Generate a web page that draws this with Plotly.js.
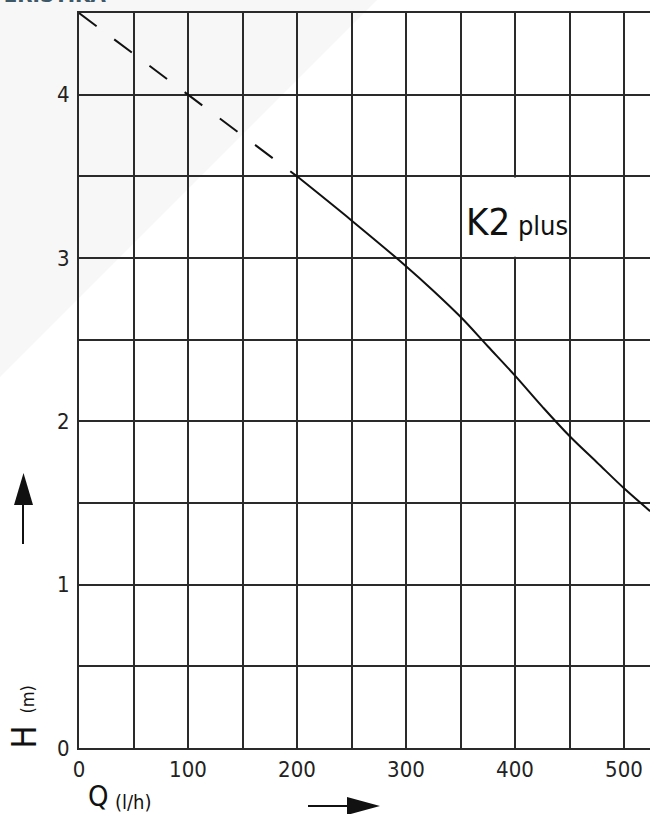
<!DOCTYPE html>
<html>
<head>
<meta charset="utf-8">
<script src="https://cdn.plot.ly/plotly-3.0.1.min.js"></script>
<style>html,body{margin:0;padding:0;background:#fff;}#chart{width:650px;height:814px;}</style>
</head>
<body>
<div id="chart"></div>
<script>
// ---- data ----
const flowDashed = [0, 200];
const headDashed = [4.5, 3.5];
const flowSolid = [200, 250, 300, 325, 350, 375, 400, 425, 450, 475, 500, 524];
const headSolid = [3.50, 3.23, 2.95, 2.80, 2.64, 2.46, 2.28, 2.09, 1.91, 1.75, 1.59, 1.45];
const xTickVals = [0, 50, 100, 150, 200, 250, 300, 350, 400, 450, 500];
const xTickText = ['0', '', '100', '', '200', '', '300', '', '400', '', '500'];
const yTickVals = [0, 0.5, 1, 1.5, 2, 2.5, 3, 3.5, 4];
const yTickText = ['0', '', '1', '', '2', '', '3', '', '4'];
const seriesLabel = 'K2';
const seriesSuffix = 'plus';
const xTitle = 'Q';
const xUnit = '(l/h)';
const yTitle = 'H';
const yUnit = '(m)';
const headerText = 'CHARAKTERISTIKA';

// ---- geometry ----
const W = 650, H = 814;
const M = {l: 79, r: 0, t: 13, b: 66};
const PW = W - M.l - M.r, PH = H - M.t - M.b;
const px = v => (v - M.l) / PW;
const py = v => (H - M.b - v) / PH;
const FONT = 'DejaVu Sans Condensed, Liberation Sans Narrow, DejaVu Sans, sans-serif';
const GRID = '#2a2a2a';

const traces = [
  {x: flowDashed, y: headDashed, mode: 'lines', type: 'scatter',
   line: {color: '#111', width: 2, dash: '22px,22px'}, hoverinfo: 'skip'},
  {x: flowSolid, y: headSolid, mode: 'lines', type: 'scatter',
   line: {color: '#111', width: 2, shape: 'spline', smoothing: 1}, hoverinfo: 'skip'}
];

const shapes = [
  // faint watermark triangle
  {type: 'path', xref: 'paper', yref: 'paper', layer: 'below',
   path: `M ${px(0)} ${py(0)} L ${px(377)} ${py(0)} L ${px(0)} ${py(377)} Z`,
   fillcolor: '#f7f7f7', line: {width: 0}},
  // white label box
  {type: 'rect', xref: 'x', yref: 'y', layer: 'between',
   x0: 351.5, x1: 448.5, y0: 3.007, y1: 3.493,
   fillcolor: '#ffffff', line: {width: 0}},
  // up arrow
  {type: 'line', xref: 'paper', yref: 'paper', x0: px(23), x1: px(23), y0: py(544), y1: py(500),
   line: {color: '#111', width: 2}},
  {type: 'path', xref: 'paper', yref: 'paper',
   path: `M ${px(14)} ${py(505)} L ${px(33)} ${py(505)} L ${px(23.5)} ${py(473)} Z`,
   fillcolor: '#111', line: {width: 0}},
  // right arrow
  {type: 'line', xref: 'paper', yref: 'paper', x0: px(308), x1: px(350), y0: py(806), y1: py(806),
   line: {color: '#111', width: 2}},
  {type: 'path', xref: 'paper', yref: 'paper',
   path: `M ${px(347)} ${py(797)} L ${px(347)} ${py(815)} L ${px(380)} ${py(806)} Z`,
   fillcolor: '#111', line: {width: 0}}
];

const annotations = [
  {xref: 'x', yref: 'y', x: 353, y: 3.22, xanchor: 'left', yanchor: 'middle', showarrow: false,
   text: `${seriesLabel}<span style="font-size:27px"> ${seriesSuffix}</span>`,
   font: {family: FONT, size: 38, color: '#111'}},
  {xref: 'paper', yref: 'paper', x: px(98.5), y: py(796), xanchor: 'center', yanchor: 'middle', showarrow: false,
   text: xTitle, font: {family: FONT, size: 29, color: '#111'}},
  {xref: 'paper', yref: 'paper', x: px(113), y: py(802), xanchor: 'left', yanchor: 'middle', showarrow: false,
   text: xUnit, font: {family: FONT, size: 20, color: '#111'}},
  {xref: 'paper', yref: 'paper', x: px(23.5), y: py(737), xanchor: 'center', yanchor: 'middle', showarrow: false,
   textangle: -90, text: yTitle, font: {family: FONT, size: 34, color: '#111'}},
  {xref: 'paper', yref: 'paper', x: px(26.5), y: py(700), xanchor: 'center', yanchor: 'middle', showarrow: false,
   textangle: -90, text: yUnit, font: {family: FONT, size: 18, color: '#111'}},
  {xref: 'paper', yref: 'paper', x: px(108), y: py(9), xanchor: 'right', yanchor: 'bottom', showarrow: false,
   text: `<b>${headerText}</b>`, font: {family: FONT, size: 22, color: '#3e5868'}}
];

const layout = {
  width: W, height: H,
  margin: M,
  paper_bgcolor: '#ffffff',
  plot_bgcolor: 'rgba(0,0,0,0)',
  showlegend: false,
  xaxis: {range: [0, PW / 1.09], tickvals: xTickVals, ticktext: xTickText,
          showgrid: true, gridcolor: GRID, gridwidth: 2, zeroline: false,
          showline: true, linecolor: GRID, linewidth: 2, mirror: true,
          ticks: '', ticklabelstandoff: 1,
          tickfont: {family: FONT, size: 22, color: '#222'}, fixedrange: true},
  yaxis: {range: [0, 4.5], tickvals: yTickVals, ticktext: yTickText,
          showgrid: true, gridcolor: GRID, gridwidth: 2, zeroline: false,
          showline: true, linecolor: GRID, linewidth: 2,
          ticks: '', ticklabelstandoff: 3,
          tickfont: {family: FONT, size: 22, color: '#222'}, fixedrange: true},
  shapes: shapes,
  annotations: annotations
};

Plotly.newPlot('chart', traces, layout, {staticPlot: true, displayModeBar: false});
</script>
</body>
</html>
